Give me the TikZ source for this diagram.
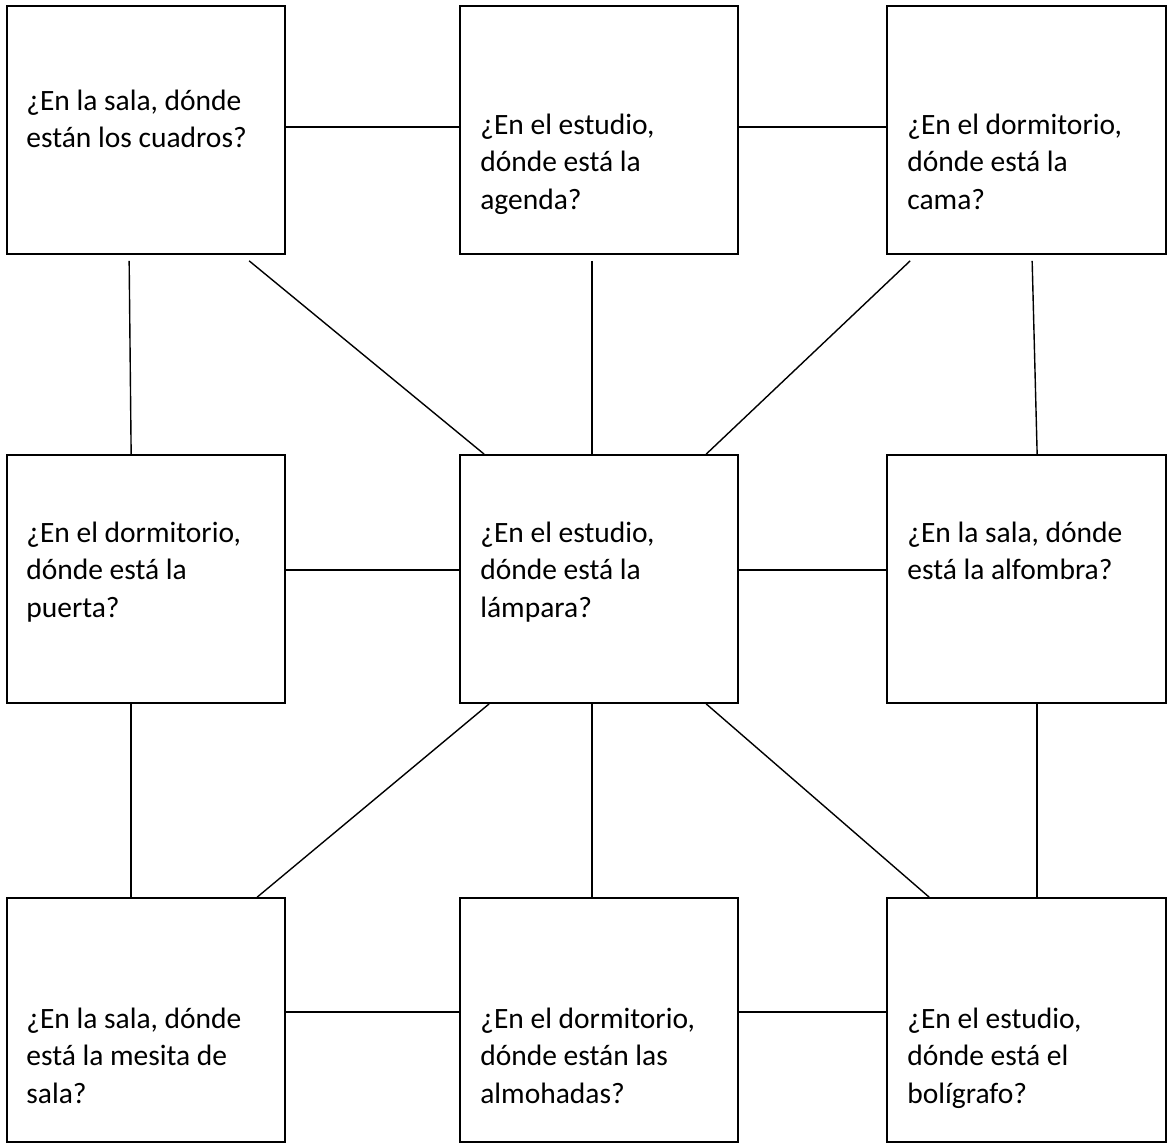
\documentclass[tikz,border=0pt]{standalone}
\usepackage{fontspec}
\setmainfont{Carlito}
\usetikzlibrary{calc}
\begin{document}
\begin{tikzpicture}[x=1pt,y=-1pt,
  box/.style={draw=black, line width=1.7pt, rectangle, minimum width=278pt, minimum height=248pt, inner sep=0pt},
  boxlow/.style={box, minimum height=244pt},
  txt/.style={anchor=north west, inner sep=0pt, align=left, font={\fontsize{29.5}{37.5}\selectfont}},
  conn/.style={draw=black, line width=1.4pt}]
\fill[white] (0,0) rectangle (1170,1145);
\useasboundingbox (0,0) rectangle (1170,1145);
% boxes
\node[box] (b1) at (146,130) {};
\node[box] (b2) at (599,130) {};
\node[box, minimum width=279pt] (b3) at (1026.5,130) {};
\node[box] (b4) at (146,579) {};
\node[box] (b5) at (599,579) {};
\node[box, minimum width=279pt] (b6) at (1026.5,579) {};
\node[boxlow] (b7) at (146,1020) {};
\node[boxlow] (b8) at (599,1020) {};
\node[boxlow, minimum width=279pt] (b9) at (1026.5,1020) {};
% texts (strut height 24pt above first baseline)
\def\st{\rule{0pt}{24pt}}
\node[txt] (t1) at ($(b1.north west)+(20,81)$) {\st¿En la sala, dónde\\están los cuadros?};
\node[txt] (t2) at ($(b2.north west)+(21,105)$) {\st¿En el estudio,\\dónde está la\\agenda?};
\node[txt] (t3) at ($(b3.north west)+(21,105)$) {\st¿En el dormitorio,\\dónde está la\\cama?};
\node[txt] (t4) at ($(b4.north west)+(20,64)$) {\st¿En el dormitorio,\\dónde está la\\puerta?};
\node[txt] (t5) at ($(b5.north west)+(21,64)$) {\st¿En el estudio,\\dónde está la\\lámpara?};
\node[txt] (t6) at ($(b6.north west)+(21,64)$) {\st¿En la sala, dónde\\está la alfombra?};
\node[txt] (t7) at ($(b7.north west)+(20,107)$) {\st¿En la sala, dónde\\está la mesita de\\sala?};
\node[txt] (t8) at ($(b8.north west)+(21,107)$) {\st¿En el dormitorio,\\dónde están las\\almohadas?};
\node[txt] (t9) at ($(b9.north west)+(21,107)$) {\st¿En el estudio,\\dónde está el\\bolígrafo?};
% connectors
\draw[conn] ($(b1.north east)+(0,122)$) -- ($(b2.north west)+(0,122)$);
\draw[conn] ($(b2.north east)+(0,122)$) -- ($(b3.north west)+(0,122)$);
\draw[conn] ($(b1.south west)+(123,6)$) -- ($(b4.north west)+(125,0)$);
\draw[conn] ($(b1.south west)+(243,6)$) -- ($(b5.north west)+(25,0)$);
\draw[conn] ($(b2.south west)+(133,6)$) -- ($(b5.north west)+(133,0)$);
\draw[conn] ($(b3.south west)+(24,6)$) -- ($(b5.north west)+(247,0)$);
\draw[conn] ($(b3.south west)+(146,6)$) -- ($(b6.north west)+(151,0)$);
\draw[conn] ($(b4.north east)+(0,116)$) -- ($(b5.north west)+(0,116)$);
\draw[conn] ($(b5.north east)+(0,116)$) -- ($(b6.north west)+(0,116)$);
\draw[conn] ($(b4.south west)+(125,0)$) -- ($(b7.north west)+(125,0)$);
\draw[conn] ($(b5.south west)+(30,0)$) -- ($(b7.north west)+(251,0)$);
\draw[conn] ($(b5.south west)+(133,0)$) -- ($(b8.north west)+(133,0)$);
\draw[conn] ($(b5.south west)+(247,0)$) -- ($(b9.north west)+(43,0)$);
\draw[conn] ($(b6.south west)+(151,0)$) -- ($(b9.north west)+(151,0)$);
\draw[conn] ($(b7.north east)+(0,115)$) -- ($(b8.north west)+(0,115)$);
\draw[conn] ($(b8.north east)+(0,115)$) -- ($(b9.north west)+(0,115)$);
\end{tikzpicture}
\end{document}
